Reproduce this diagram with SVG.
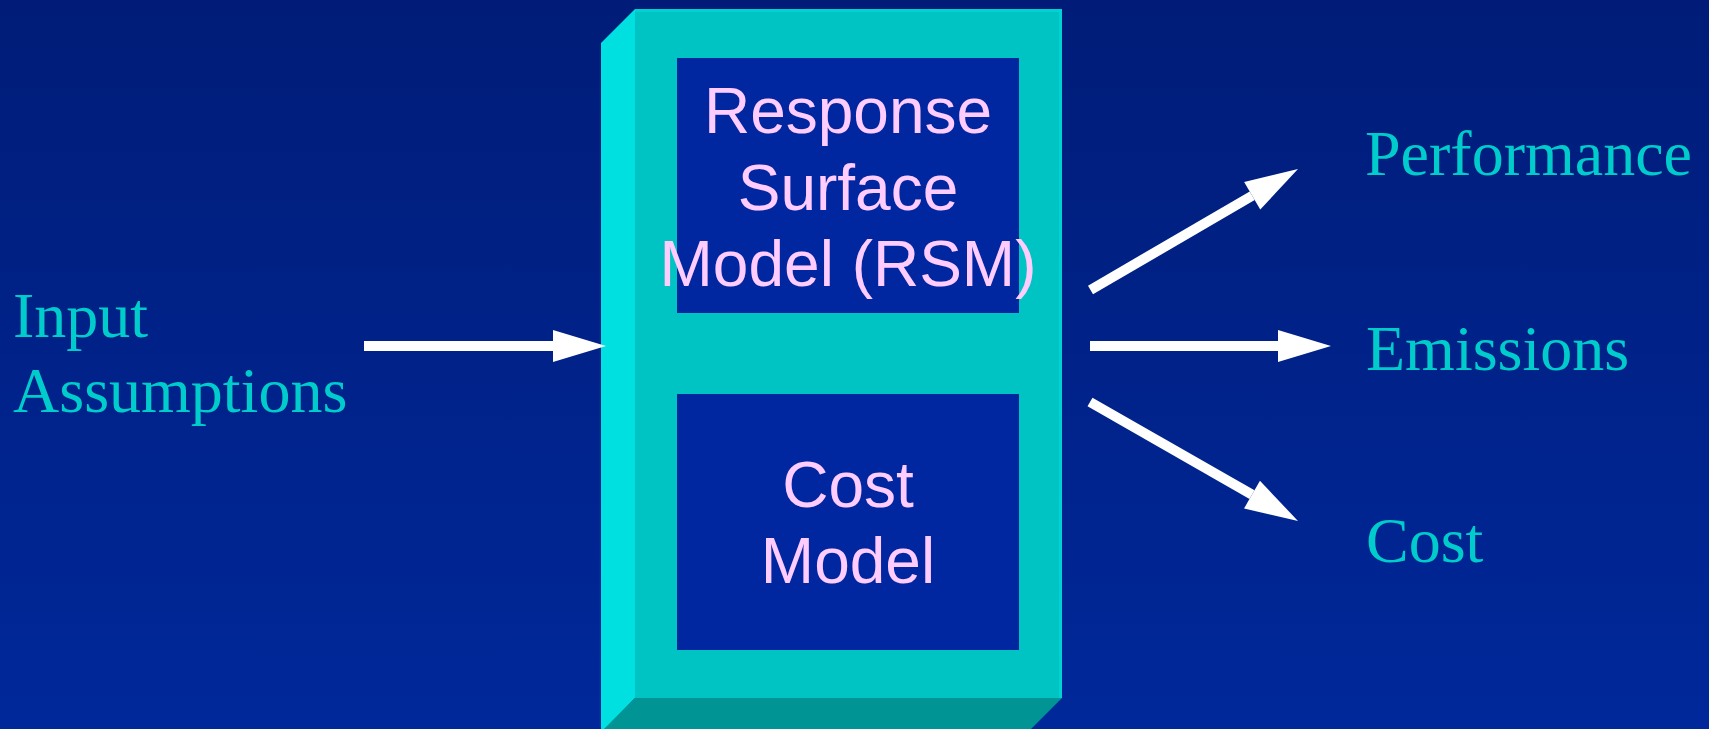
<svg xmlns="http://www.w3.org/2000/svg" width="1709" height="729" viewBox="0 0 1709 729">
  <defs>
    <linearGradient id="bg" x1="0" y1="0" x2="0" y2="1">
      <stop offset="0" stop-color="#001C78"/>
      <stop offset="1" stop-color="#00289A"/>
    </linearGradient>
    <marker id="head" markerUnits="userSpaceOnUse" markerWidth="53" markerHeight="32" viewBox="0 0 53 32" refX="0" refY="16" orient="auto" overflow="visible">
      <path d="M0,0 L53,16 L0,32 Z" fill="#FFFFFF"/>
    </marker>
  </defs>
  <style>
    .serif { font-family: "Liberation Serif", "Times New Roman", serif; font-size: 64px; fill: #00CCCC; }
    .sans { font-family: "Liberation Sans", Arial, sans-serif; font-size: 64px; fill: #FFCCFF; text-anchor: middle; }
    .inner { fill: #0026A0; }
    .conn { stroke: #FFFFFF; stroke-width: 10; fill: none; stroke-linecap: butt; marker-end: url(#head); }
  </style>
  <rect x="0" y="0" width="1709" height="729" fill="url(#bg)"/>

  <g id="model-block">
    <polygon points="601,43 635,9 635,698 601,733" fill="#00E0E0"/>
    <polygon points="635,698 1062,698 1028,732 601,732" fill="#009494"/>
    <rect x="635" y="9" width="427" height="689" fill="#00C3C3"/>
    <rect x="635" y="9" width="427" height="3" fill="#00D2D2"/>
    <rect x="1059" y="9" width="3" height="689" fill="#00D2D2"/>
  </g>

  <g id="rsm">
    <rect class="inner" x="677" y="58" width="342" height="255"/>
    <text class="sans" x="848" y="133">Response</text>
    <text class="sans" x="848" y="210">Surface</text>
    <text class="sans" x="848" y="286">Model (RSM)</text>
  </g>

  <g id="cost-model">
    <rect class="inner" x="677" y="394" width="342" height="256"/>
    <text class="sans" x="848" y="507">Cost</text>
    <text class="sans" x="848" y="583">Model</text>
  </g>

  <g id="input-assumptions">
    <text class="serif" x="13" y="337">Input</text>
    <text class="serif" x="13" y="412">Assumptions</text>
  </g>

  <g id="performance">
    <text class="serif" x="1365" y="175">Performance</text>
  </g>
  <g id="emissions">
    <text class="serif" x="1366" y="370">Emissions</text>
  </g>
  <g id="cost">
    <text class="serif" x="1366" y="562">Cost</text>
  </g>

  <g id="connectors">
    <path class="conn" d="M364,346 L553,346"/>
    <path class="conn" d="M1090.5,290 L1252.2,195.7"/>
    <path class="conn" d="M1090,346 L1278,346"/>
    <path class="conn" d="M1090,402 L1252,494.7"/>
  </g>
</svg>
